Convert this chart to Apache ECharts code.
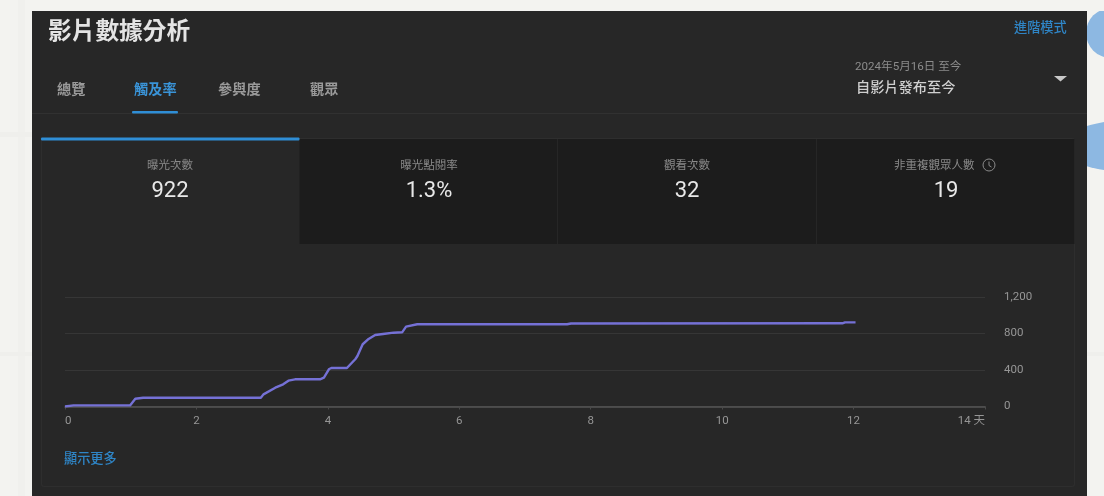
<!DOCTYPE html>
<html>
<head>
<meta charset="utf-8">
<style>html,body{margin:0;padding:0;background:#f3f3f0}#c{width:1104px;height:496px;filter:blur(0.45px)}</style>
<script src="https://cdn.jsdelivr.net/npm/echarts@6/dist/echarts.min.js"></script>
</head>
<body>
<div id="c"></div>
<script>
const days = [0,0.13,0.99,1.07,1.19,2.98,3.02,3.2,3.32,3.4,3.5,3.88,3.94,4.02,4.06,4.29,4.42,4.45,4.53,4.62,4.72,4.84,5.0,5.13,5.19,5.36,7.64,7.7,11.83,11.87,12.03];
const impressions = [0,12,12,85,96,96,133,206,243,283,298,298,316,411,422,422,521,553,682,740,784,795,809,813,875,901,901,910,912,922,922];
const yTicks = [0,400,800,1200];
const metricNames = ['曝光次數','曝光點閱率','觀看次數','非重複觀眾人數'];
const metricValues = ['922','1.3%','32','19'];
const tabNames = ['總覽','觸及率','參與度','觀眾'];

const CJK = '"Noto Sans CJK TC","Noto Sans",sans-serif';
const NUM = 'Roboto,"Noto Sans CJK TC",sans-serif';
const rect = (x,y,w,h,fill,z,r) => ({type:'rect',z,silent:true,shape:{x,y,width:w,height:h,r:r||0},style:{fill}});
const txt = (x,y,text,size,fill,opt) => ({type:'text',z:10,silent:true,x,y,style:Object.assign({text,fill,font:'400 '+size+'px '+CJK,textAlign:'left',textVerticalAlign:'middle'},opt||{})});

const tabX = [57,134,218,310];
const cardCx = [170,429,687,946];

const gfx = [
  rect(18,0,7,496,'#f0f0ed',-20),
  rect(0,132,32,5,'#efefec',-20),
  rect(0,352,32,4,'#efefec',-20),
  rect(1087,352,17,4,'#efefec',-20),
  {type:'circle',z:-19,silent:true,shape:{cx:1111,cy:33,r:25},style:{fill:'#8db8e2'}},
  {type:'ellipse',z:-19,silent:true,shape:{cx:1140,cy:146,rx:80,ry:27},style:{fill:'#8db8e2'}},
  rect(1087,0,17,11,'#f3f3f0',-18),
  rect(32,11,1055,485,'#272727',-17),
  rect(32,113,1055,1,'#313131',-16),
  rect(41,138,1034,349,'#2e2e2e',-15,3),
  rect(42,139,1032,347,'#272727',-14,3),
  rect(299.5,139,775,105,'#1c1c1c',-13),
  rect(557,139,1,105,'#262626',-12),
  rect(816,139,1,105,'#262626',-12),
  rect(41,137.5,258.5,3,'#2f8ed6',-11,1),
  rect(132,111,46,2.5,'#2f8ed6',-11,1),
  txt(48,30,'影片數據分析',23.7,'#e4e4e4',{font:'700 23.7px '+CJK}),
  txt(1014,27,'進階模式',13.2,'#2f85c6',{font:'500 13.2px '+CJK}),
  txt(855,67,'2024年5月16日 至今',11.6,'#8c8c8c',{font:'400 11.6px '+NUM}),
  txt(856,87,'自影片發布至今',14.2,'#cfcfcf',{font:'500 14.2px '+CJK}),
  {type:'polygon',z:10,silent:true,shape:{points:[[1054,76],[1067,76],[1060.5,81.5]]},style:{fill:'#c8c8c8'}},
  txt(64,458,'顯示更多',13.2,'#2f85c6',{font:'500 13.2px '+CJK}),
  {type:'circle',z:10,silent:true,shape:{cx:989,cy:165,r:6},style:{fill:'none',stroke:'#8a8a8a',lineWidth:1}},
  {type:'polyline',z:10,silent:true,shape:{points:[[989,161.5],[989,165.5],[991.5,167]]},style:{fill:'none',stroke:'#8a8a8a',lineWidth:1}}
];
tabNames.forEach((t,i)=>gfx.push(txt(tabX[i],89,t,14.2,i===1?'#3a94d8':'#9a9a9a',{font:'700 14.2px '+CJK})));
metricNames.forEach((t,i)=>{
  gfx.push(txt(i===3?894:cardCx[i],164.5,t,11.5,'#8a8a8a',{textAlign:i===3?'left':'center'}));
  gfx.push(txt(cardCx[i],191.5,metricValues[i],22,'#e8e8e8',{textAlign:'center',font:'400 22px '+NUM}));
});

const chart = echarts.init(document.getElementById('c'),null,{renderer:'canvas',width:1104,height:496});
chart.setOption({
  animation:false,
  backgroundColor:'#f3f3f0',
  graphic:{elements:gfx},
  grid:{left:65,right:119,top:297,height:109.5,containLabel:false},
  xAxis:{
    type:'value',min:0,max:14,interval:2,
    axisLine:{show:true,onZero:false,lineStyle:{color:'#565656',width:1.5}},
    axisTick:{show:true,length:3,lineStyle:{color:'#4a4a4a'}},
    splitLine:{show:false},
    axisLabel:{color:'#969696',fontSize:11.5,fontFamily:NUM,margin:9,alignMinLabel:'left',alignMaxLabel:'right',
      formatter:v=>v===14?'14 天':String(v)}
  },
  yAxis:{
    type:'value',position:'right',min:yTicks[0],max:yTicks[yTicks.length-1],interval:yTicks[1]-yTicks[0],
    axisLine:{show:false},axisTick:{show:false},
    splitLine:{show:true,lineStyle:{color:'#363636',width:1}},
    axisLabel:{color:'#969696',fontSize:11.5,fontFamily:NUM,margin:19,padding:[4,0,0,0],
      formatter:v=>v.toLocaleString('en-US')}
  },
  series:[{
    type:'line',
    data:days.map((d,i)=>[d,impressions[i]]),
    showSymbol:false,
    z:5,
    lineStyle:{color:'#7571d6',width:2.4,join:'round'}
  }]
});
</script>
</body>
</html>
